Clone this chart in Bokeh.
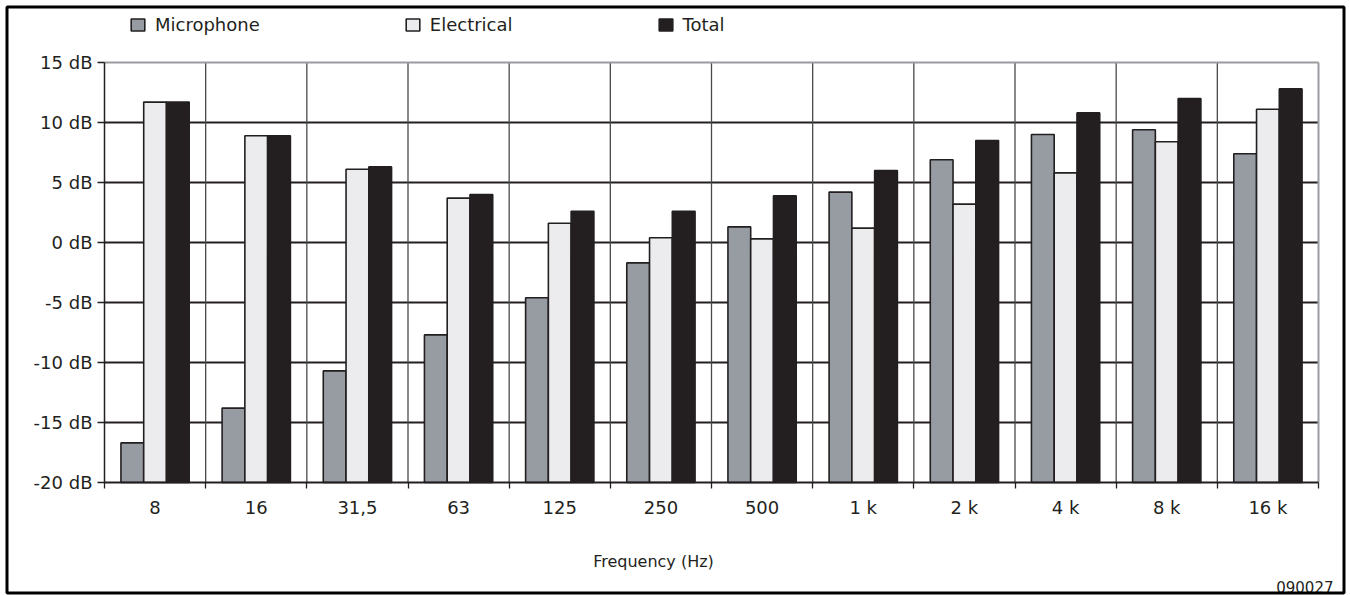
from bokeh.plotting import figure
from bokeh.models import (Range1d, FixedTicker, PrintfTickFormatter, Legend, LegendItem,
                          ColumnDataSource, Label, LinearAxis, BoxAnnotation)
from bokeh.transform import dodge
from bokeh.embed import file_html
from bokeh.resources import INLINE

# ---- data ----
categories = ["8", "16", "31,5", "63", "125", "250", "500", "1 k", "2 k", "4 k", "8 k", "16 k"]
microphone = [-16.7, -13.8, -10.7, -7.7, -4.6, -1.7, 1.3, 4.2, 6.9, 9.0, 9.4, 7.4]
electrical = [11.7, 8.9, 6.1, 3.7, 1.6, 0.4, 0.3, 1.2, 3.2, 5.8, 8.4, 11.1]
total = [11.7, 8.9, 6.3, 4.0, 2.6, 2.6, 3.9, 6.0, 8.5, 10.8, 12.0, 12.8]
series_names = ["Microphone", "Electrical", "Total"]
y_ticks = [-20, -15, -10, -5, 0, 5, 10, 15]
x_title = "Frequency (Hz)"
figure_code = "090027"

# ---- style / layout ----
FONT = "DejaVu Sans"
DARK = "#231f20"
colors = ["#979ca3", "#ececee", "#231f20"]
W, H = 1350, 595
PLOT_L, PLOT_R, PLOT_T, PLOT_B = 104, 1318, 62, 482   # plot area in pixels
BW = 0.225

n = len(categories)
ymin, ymax = y_ticks[0], y_ticks[-1]
px_per_cat = (PLOT_R - PLOT_L) / n
px_per_db = (PLOT_B - PLOT_T) / (ymax - ymin)
x_range = Range1d(-PLOT_L / px_per_cat, n + (W - PLOT_R) / px_per_cat)
y_range = Range1d(ymin - (H - PLOT_B) / px_per_db, ymax + PLOT_T / px_per_db)

centers = [i + 0.5 for i in range(n)]
bounds_x = list(range(n + 1))
source = ColumnDataSource(dict(xc=centers, cat=categories,
                               mic=microphone, ele=electrical, tot=total))

p = figure(width=W, height=H, x_range=x_range, y_range=y_range,
           output_backend="svg", toolbar_location=None,
           x_axis_location=None, y_axis_location=None,
           min_border=0, min_border_left=0, min_border_right=0,
           min_border_top=0, min_border_bottom=0,
           background_fill_color="white", border_fill_color="white", outline_line_color=None)
p.xgrid.visible = False
p.ygrid.visible = False

# grid lines (behind bars), limited to the plot area
inner_y = y_ticks[1:-1]
p.segment(x0=[0] * len(inner_y), x1=[n] * len(inner_y), y0=inner_y, y1=inner_y,
          line_color=DARK, line_width=1.8)
inner_x = bounds_x[1:-1]
p.segment(x0=inner_x, x1=inner_x, y0=[ymin] * len(inner_x), y1=[ymax] * len(inner_x),
          line_color="#4a4a4a", line_width=1.3)

renderers = []
for off, col, fc in zip([-BW, 0.0, BW], ["mic", "ele", "tot"], colors):
    r = p.vbar(x=dodge("xc", off, range=p.x_range), top=col, bottom=ymin, width=BW,
               source=source, fill_color=fc, line_color=DARK, line_width=1.6)
    renderers.append(r)

# gray top and right edges of the plot area
p.segment(x0=[0, n], x1=[n, n], y0=[ymax, ymin], y1=[ymax, ymax],
          line_color="#9a9c9f", line_width=2)

# x axis: labels at category centres, ticks at category boundaries
xa = LinearAxis(fixed_location=ymin, bounds=(0, n))
xa.ticker = FixedTicker(ticks=centers, minor_ticks=bounds_x)
xa.major_label_overrides = {c: lab for c, lab in zip(centers, categories)}
xa.major_tick_line_color = None
xa.major_tick_out = 0
xa.major_tick_in = 0
xa.minor_tick_out = 6
xa.minor_tick_in = 0
xa.minor_tick_line_color = DARK
xa.minor_tick_line_width = 1.3
xa.axis_line_color = DARK
xa.axis_line_width = 2
xa.major_label_text_font = FONT
xa.major_label_text_font_size = "18px"
xa.major_label_text_color = DARK
xa.major_label_standoff = 8
p.add_layout(xa, "below")

ya = LinearAxis(fixed_location=0, bounds=(ymin, ymax))
ya.ticker = FixedTicker(ticks=y_ticks)
ya.formatter = PrintfTickFormatter(format="%d dB")
ya.major_tick_out = 7
ya.major_tick_in = 0
ya.major_tick_line_color = DARK
ya.major_tick_line_width = 1.3
ya.minor_tick_line_color = None
ya.axis_line_color = DARK
ya.axis_line_width = 1.5
ya.major_label_text_font = FONT
ya.major_label_text_font_size = "18px"
ya.major_label_text_color = DARK
ya.major_label_standoff = 5
p.add_layout(ya, "left")

legend = Legend(items=[LegendItem(label=nm, renderers=[r]) for nm, r in zip(series_names, renderers)],
                location=(129, H - 37), orientation="horizontal", padding=0, margin=0, spacing=144,
                glyph_width=17, glyph_height=15, label_height=26, label_standoff=9,
                border_line_color=None, background_fill_alpha=0,
                label_text_font=FONT, label_text_font_size="18px", label_text_color=DARK)
p.add_layout(legend, "center")

p.add_layout(Label(x=653, y=561, x_units="canvas", y_units="canvas", text=x_title,
                   text_align="center", text_baseline="alphabetic",
                   text_font=FONT, text_font_size="16px", text_color=DARK))
p.add_layout(Label(x=1333, y=586, x_units="canvas", y_units="canvas", text=figure_code,
                   text_align="right", text_baseline="alphabetic",
                   text_font=FONT, text_font_size="15px", text_color=DARK))

# outer frame of the figure
p.add_layout(BoxAnnotation(left=6.5, right=W - 6.5, top=6.5, bottom=H - 2.5,
                           left_units="canvas", right_units="canvas",
                           top_units="canvas", bottom_units="canvas",
                           fill_alpha=0, line_color="#000000", line_alpha=1.0,
                           line_width=3, level="overlay"))

open("out.html", "w").write(file_html(p, INLINE))
